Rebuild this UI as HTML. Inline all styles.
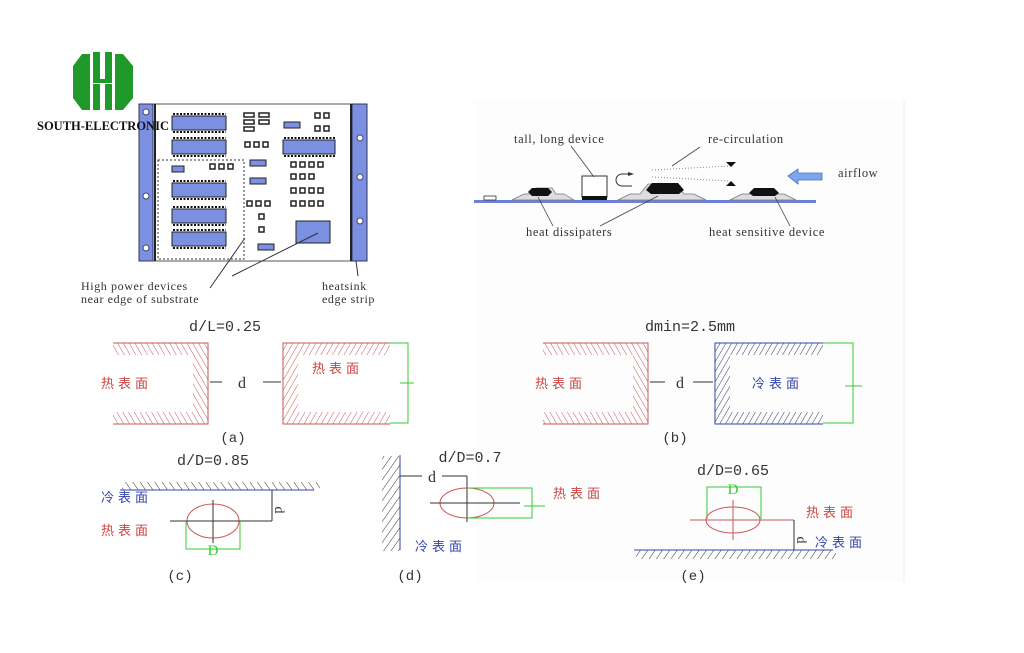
<!DOCTYPE html>
<html><head><meta charset="utf-8"><style>
html,body{margin:0;padding:0;background:#fff;}
svg{display:block;}
.t{font-family:"Liberation Serif",serif;}
.c{font-family:"Liberation Sans","Noto Sans CJK SC",sans-serif;}
.m{font-family:"Liberation Mono",monospace;}
</style></head><body>
<svg width="1024" height="653" viewBox="0 0 1024 653" xmlns="http://www.w3.org/2000/svg">
<defs>
<pattern id="hr" width="5" height="5" patternUnits="userSpaceOnUse" patternTransform="rotate(-30)"><line x1="0" y1="0" x2="0" y2="5" stroke="#c55" stroke-width="1"/></pattern>
<pattern id="hr2" width="5" height="5" patternUnits="userSpaceOnUse" patternTransform="rotate(30)"><line x1="0" y1="0" x2="0" y2="5" stroke="#c55" stroke-width="1"/></pattern>
<pattern id="hb" width="5" height="5" patternUnits="userSpaceOnUse" patternTransform="rotate(30)"><line x1="0" y1="0" x2="0" y2="5" stroke="#336" stroke-width="1"/></pattern>
<pattern id="hk" width="6" height="6" patternUnits="userSpaceOnUse" patternTransform="rotate(-35)"><line x1="0" y1="0" x2="0" y2="6" stroke="#333" stroke-width="1"/></pattern>
<pattern id="hk2" width="6" height="6" patternUnits="userSpaceOnUse" patternTransform="rotate(35)"><line x1="0" y1="0" x2="0" y2="6" stroke="#333" stroke-width="1"/></pattern>
</defs>
<rect x="475" y="100" width="430" height="482" fill="#fdfdfd"/>
<line x1="904" y1="100" x2="904" y2="582" stroke="#f0f0f0"/>

<!-- logo -->
<g fill="#1f9a2a">
<path d="M82 54 h8 v56 h-8 l-9 -12 v-32z"/>
<path d="M93 52 h7 v28 h-7z M93 84 h7 v26 h-7z"/>
<path d="M105 52 h7 v28 h-7z M105 84 h7 v26 h-7z"/>
<path d="M115 54 h8 l10 12 v32 l-10 12 h-8z"/>
<rect x="93" y="79" width="19" height="4"/>
</g>

<!-- PCB -->
<rect x="139" y="104" width="228" height="157" fill="#fff" stroke="#555"/>
<rect x="139" y="104" width="14" height="157" fill="#7c90e2" stroke="#335"/>
<rect x="352" y="104" width="15" height="157" fill="#7c90e2" stroke="#335"/>
<line x1="155" y1="104" x2="155" y2="261" stroke="#222" stroke-width="2"/>
<line x1="351" y1="104" x2="351" y2="261" stroke="#222" stroke-width="2"/>
<g fill="#fff" stroke="#446"><circle cx="146" cy="112" r="3"/><circle cx="146" cy="196" r="3"/><circle cx="146" cy="248" r="3"/><circle cx="360" cy="138" r="3"/><circle cx="360" cy="177" r="3"/><circle cx="360" cy="221" r="3"/></g>
<rect x="158" y="160" width="86" height="99" fill="none" stroke="#333" stroke-dasharray="2,2"/>
<g fill="#7c90e2" stroke="#222" stroke-width="1">
<rect x="172" y="116" width="54" height="14"/><rect x="172" y="140" width="54" height="14"/>
<rect x="172" y="183" width="54" height="14"/><rect x="172" y="209" width="54" height="14"/>
<rect x="172" y="232" width="54" height="14"/><rect x="283" y="140" width="52" height="14"/>
<rect x="296" y="221" width="34" height="22"/>
<rect x="172" y="166" width="12" height="6"/><rect x="250" y="160" width="16" height="6"/>
<rect x="250" y="178" width="16" height="6"/><rect x="284" y="122" width="16" height="6"/>
<rect x="258" y="244" width="16" height="6"/>
</g>
<g stroke="#111" stroke-width="2" stroke-dasharray="2,1.5">
<line x1="173" y1="114" x2="226" y2="114"/><line x1="173" y1="132" x2="226" y2="132"/>
<line x1="173" y1="138" x2="226" y2="138"/><line x1="173" y1="156" x2="226" y2="156"/>
<line x1="173" y1="181" x2="226" y2="181"/><line x1="173" y1="199" x2="226" y2="199"/>
<line x1="173" y1="207" x2="226" y2="207"/><line x1="173" y1="225" x2="226" y2="225"/>
<line x1="173" y1="230" x2="226" y2="230"/><line x1="173" y1="248" x2="226" y2="248"/>
<line x1="284" y1="138" x2="335" y2="138"/><line x1="284" y1="156" x2="335" y2="156"/>
</g>
<g fill="#fff" stroke="#222" stroke-width="1.5">
<rect x="210" y="164" width="5" height="5"/><rect x="219" y="164" width="5" height="5"/><rect x="228" y="164" width="5" height="5"/>
<rect x="245" y="142" width="5" height="5"/><rect x="254" y="142" width="5" height="5"/><rect x="263" y="142" width="5" height="5"/>
<rect x="247" y="201" width="5" height="5"/><rect x="256" y="201" width="5" height="5"/><rect x="265" y="201" width="5" height="5"/>
<rect x="259" y="214" width="5" height="5"/><rect x="259" y="227" width="5" height="5"/>
<rect x="315" y="113" width="5" height="5"/><rect x="324" y="113" width="5" height="5"/>
<rect x="315" y="126" width="5" height="5"/><rect x="324" y="126" width="5" height="5"/>
<rect x="244" y="113" width="10" height="4"/><rect x="259" y="113" width="10" height="4"/>
<rect x="244" y="120" width="10" height="4"/><rect x="259" y="120" width="10" height="4"/><rect x="244" y="127" width="10" height="4"/>
<rect x="291" y="162" width="5" height="5"/><rect x="300" y="162" width="5" height="5"/><rect x="309" y="162" width="5" height="5"/><rect x="318" y="162" width="5" height="5"/>
<rect x="291" y="174" width="5" height="5"/><rect x="300" y="174" width="5" height="5"/><rect x="309" y="174" width="5" height="5"/>
<rect x="291" y="188" width="5" height="5"/><rect x="300" y="188" width="5" height="5"/><rect x="309" y="188" width="5" height="5"/><rect x="318" y="188" width="5" height="5"/>
<rect x="291" y="201" width="5" height="5"/><rect x="300" y="201" width="5" height="5"/><rect x="309" y="201" width="5" height="5"/><rect x="318" y="201" width="5" height="5"/>
</g>
<text x="37" y="130" class="t" font-size="12.5" font-weight="bold" fill="#111">SOUTH-ELECTRONIC</text>
<g stroke="#333" stroke-width="1">
<line x1="245" y1="238" x2="210" y2="288"/><line x1="318" y1="233" x2="232" y2="276"/><line x1="356" y1="261" x2="358" y2="276"/>
</g>
<text x="81" y="290" class="t" font-size="12" fill="#333" letter-spacing="0.6">High power devices</text>
<text x="81" y="303" class="t" font-size="12" fill="#333" letter-spacing="0.6">near edge of substrate</text>
<text x="322" y="290" class="t" font-size="12" fill="#333" letter-spacing="0.6">heatsink</text>
<text x="322" y="303" class="t" font-size="12" fill="#333" letter-spacing="0.6">edge strip</text>

<!-- airflow diagram -->
<rect x="474" y="200" width="342" height="3" fill="#6d82d6"/>
<rect x="484" y="196" width="12" height="4" fill="#fff" stroke="#333" stroke-width="0.8"/>
<path d="M512 200 l12 -6 h8 l4 -6 h16 l4 6 h8 l10 6z" fill="#ddd" stroke="#777" stroke-width="0.7"/>
<path d="M528 192 l4 -4 h16 l4 4 l-4 4 h-16z" fill="#111"/>
<rect x="582" y="176" width="25" height="21" fill="#fff" stroke="#333"/>
<rect x="582" y="196" width="25" height="4" fill="#111"/>
<path d="M618 200 l12 -6 h10 l8 -10 h28 l8 10 h10 l12 6z" fill="#ddd" stroke="#777" stroke-width="0.7"/>
<path d="M646 190 l6 -7 h26 l6 7 l-5 4 h-28z" fill="#111"/>
<path d="M730 200 l12 -6 h8 l4 -5 h18 l4 5 h8 l12 6z" fill="#ddd" stroke="#777" stroke-width="0.7"/>
<path d="M749 193 l5 -5 h20 l5 5 l-4 3 h-22z" fill="#111"/>
<path d="M632 174 h-10 a6 6 0 0 0 0 12 h10" fill="none" stroke="#333"/>
<path d="M628 172 l6 2 l-6 2z" fill="#333"/>
<line x1="652" y1="170" x2="730" y2="166" stroke="#888" stroke-dasharray="1,2"/>
<line x1="652" y1="177" x2="730" y2="181" stroke="#888" stroke-dasharray="1,2"/>
<path d="M726 162 h10 l-5 5z M726 186 h10 l-5 -5z" fill="#111"/>
<path d="M788 176 l10 -7 v4 h24 v7 h-24 v4z" fill="#7ba7ee" stroke="#4a6fc0" stroke-width="0.8"/>
<g stroke="#444" stroke-width="0.8">
<line x1="571" y1="146" x2="594" y2="177"/><line x1="700" y1="147" x2="672" y2="166"/>
<line x1="538" y1="197" x2="553" y2="226"/><line x1="658" y1="196" x2="600" y2="226"/><line x1="775" y1="197" x2="790" y2="226"/>
</g>
<g class="t" font-size="12.5" fill="#333" letter-spacing="0.6">
<text x="514" y="143">tall, long device</text>
<text x="708" y="143">re-circulation</text>
<text x="838" y="177">airflow</text>
<text x="526" y="236">heat dissipaters</text>
<text x="709" y="236">heat sensitive device</text>
</g>

<!-- (a) -->
<text x="225" y="331" class="m" font-size="15" fill="#333" text-anchor="middle">d/L=0.25</text>
<path d="M113 343 h95 v81 h-95 v-12 h80 v-57 h-80z" fill="url(#hr)" stroke="none"/>
<path d="M113 343 h95 v81 h-95" fill="none" stroke="#c55"/>
<path d="M390 343 h-107 v81 h107 v-12 h-92 v-57 h92z" fill="url(#hr2)" stroke="none"/>
<path d="M390 343 h-107 v81 h107" fill="none" stroke="#c55"/>
<text x="101" y="388" class="c" font-size="13" fill="#c44" letter-spacing="4">热表面</text>
<text x="312" y="373" class="c" font-size="13" fill="#c44" letter-spacing="4">热表面</text>
<g stroke="#333"><line x1="210" y1="382" x2="222" y2="382"/><line x1="263" y1="382" x2="281" y2="382"/></g>
<text x="242" y="388" class="t" font-size="16" fill="#333" text-anchor="middle">d</text>
<g stroke="#3c3" fill="none"><path d="M390 343 h18 v80 h-18"/><line x1="400" y1="383" x2="414" y2="383"/></g>
<text x="233" y="442" class="m" font-size="14" fill="#333" text-anchor="middle">(a)</text>

<!-- (b) -->
<text x="690" y="331" class="m" font-size="15" fill="#333" text-anchor="middle">dmin=2.5mm</text>
<path d="M543 343 h105 v81 h-105 v-12 h90 v-57 h-90z" fill="url(#hr)"/>
<path d="M543 343 h105 v81 h-105" fill="none" stroke="#c55"/>
<path d="M823 343 h-108 v81 h108 v-12 h-93 v-57 h93z" fill="url(#hb)"/>
<path d="M823 343 h-108 v81 h108" fill="none" stroke="#34a"/>
<text x="535" y="388" class="c" font-size="13" fill="#c44" letter-spacing="4">热表面</text>
<text x="752" y="388" class="c" font-size="13" fill="#34a" letter-spacing="4">冷表面</text>
<g stroke="#333"><line x1="650" y1="382" x2="665" y2="382"/><line x1="693" y1="382" x2="713" y2="382"/></g>
<text x="680" y="388" class="t" font-size="16" fill="#333" text-anchor="middle">d</text>
<g stroke="#3c3" fill="none"><path d="M823 343 h30 v80 h-30"/><line x1="845" y1="386" x2="862" y2="386"/></g>
<text x="675" y="442" class="m" font-size="14" fill="#333" text-anchor="middle">(b)</text>

<!-- (c) -->
<text x="213" y="465" class="m" font-size="15" fill="#333" text-anchor="middle">d/D=0.85</text>
<rect x="122" y="482" width="198" height="8" fill="url(#hk)"/>
<line x1="120" y1="490" x2="314" y2="490" stroke="#34a"/>
<text x="101" y="502" class="c" font-size="13" fill="#34a" letter-spacing="4">冷表面</text>
<text x="101" y="535" class="c" font-size="13" fill="#c44" letter-spacing="4">热表面</text>
<ellipse cx="213" cy="521" rx="26" ry="17" fill="none" stroke="#c55"/>
<line x1="170" y1="521" x2="272" y2="521" stroke="#333"/>
<line x1="213" y1="500" x2="213" y2="543" stroke="#333"/>
<line x1="272" y1="490" x2="272" y2="521" stroke="#333"/>
<text x="275" y="510" class="t" font-size="14" fill="#333" transform="rotate(90 275 510)" text-anchor="middle">d</text>
<g stroke="#3c3" fill="none"><path d="M186 521 v28 h54 v-28"/></g>
<text x="213" y="555" class="t" font-size="15" fill="#3c3" text-anchor="middle">D</text>
<text x="180" y="580" class="m" font-size="14" fill="#333" text-anchor="middle">(c)</text>

<!-- (d) -->
<rect x="382" y="456" width="18" height="95" fill="url(#hk2)"/>
<line x1="400" y1="455" x2="400" y2="550" stroke="#34a"/>
<text x="470" y="462" class="m" font-size="15" fill="#333" text-anchor="middle">d/D=0.7</text>
<g stroke="#333"><line x1="400" y1="476" x2="422" y2="476"/><line x1="442" y1="476" x2="467" y2="476"/></g>
<text x="432" y="482" class="t" font-size="16" fill="#333" text-anchor="middle">d</text>
<ellipse cx="467" cy="503" rx="27" ry="15" fill="none" stroke="#c55"/>
<line x1="430" y1="503" x2="520" y2="503" stroke="#333"/>
<line x1="467" y1="476" x2="467" y2="522" stroke="#333"/>
<g stroke="#3c3" fill="none"><path d="M467 488 h65 v30 h-65"/><line x1="524" y1="506" x2="545" y2="506"/></g>
<text x="553" y="498" class="c" font-size="13" fill="#c44" letter-spacing="4">热表面</text>
<text x="415" y="551" class="c" font-size="13" fill="#34a" letter-spacing="4">冷表面</text>
<text x="410" y="580" class="m" font-size="14" fill="#333" text-anchor="middle">(d)</text>

<!-- (e) -->
<text x="733" y="475" class="m" font-size="15" fill="#333" text-anchor="middle">d/D=0.65</text>
<g stroke="#3c3" fill="none"><path d="M707 519 v-32 h54 v32"/></g>
<text x="733" y="494" class="t" font-size="15" fill="#3c3" text-anchor="middle">D</text>
<ellipse cx="733" cy="520" rx="27" ry="13" fill="none" stroke="#c55"/>
<line x1="690" y1="520" x2="794" y2="520" stroke="#c55"/>
<line x1="733" y1="500" x2="733" y2="540" stroke="#c55"/>
<line x1="794" y1="520" x2="794" y2="550" stroke="#333"/>
<text x="797" y="540" class="t" font-size="14" fill="#333" transform="rotate(90 797 540)" text-anchor="middle">d</text>
<text x="806" y="517" class="c" font-size="13" fill="#c44" letter-spacing="4">热表面</text>
<text x="815" y="547" class="c" font-size="13" fill="#34a" letter-spacing="4">冷表面</text>
<rect x="636" y="550" width="200" height="9" fill="url(#hk2)"/>
<line x1="634" y1="550" x2="833" y2="550" stroke="#34a"/>
<text x="693" y="580" class="m" font-size="14" fill="#333" text-anchor="middle">(e)</text>
</svg>
</body></html>
